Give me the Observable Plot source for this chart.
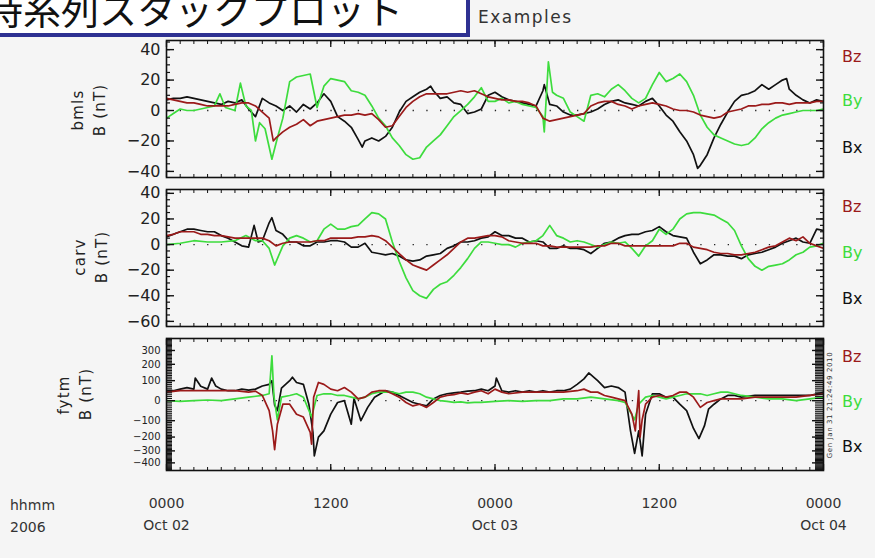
<!DOCTYPE html>
<html><head><meta charset="utf-8">
<script src="https://cdn.jsdelivr.net/npm/d3@7"></script>
<script src="https://cdn.jsdelivr.net/npm/@observablehq/plot@0.6"></script>
<style>
body{margin:0;background:#f5f5f5;}
#wrap{position:relative;width:875px;height:558px;overflow:hidden;background:#f5f5f5;font-family:"DejaVu Sans",sans-serif;color:#222;}
.abs{position:absolute;white-space:nowrap;}
.rot{position:absolute;white-space:nowrap;transform:translate(-50%,-50%) rotate(-90deg);font-size:15px;letter-spacing:1.2px;line-height:1;}
.leg{position:absolute;font-size:16px;line-height:1;transform:translateY(-50%);}
</style></head><body><div id="wrap"></div>
<script>
// ---------- data (hour since 2006-10-02 00:00 UT, value nT) ----------
const bmlsBx = [[0,7],[0.5,8],[1,8],[1.5,9],[2,8],[2.5,7],[3,6],[3.5,5],[4,4],[4.5,6],[5,5],[5.5,7],[6,1],[6.5,-4],[7,8],[7.5,5],[8,3],[8.5,0],[9,3],[9.5,-1],[10,4],[10.5,1],[11,5],[11.5,11],[12,6],[12.5,-4],[13,-7],[13.5,-11],[14,-19],[14.3,-24],[14.5,-20],[15,-18],[15.5,-20],[16,-17],[16.5,-11],[17,-1],[17.5,6],[18,9],[18.5,12],[19,14],[19.3,16],[19.5,13],[20,8],[20.5,9],[21,5],[21.5,4],[22,-2],[22.5,-1],[23,1],[23.5,10],[24,12],[24.5,9],[25,7],[25.5,6],[26,5],[26.5,4],[27,3],[27.5,13],[27.6,17],[28,4],[28.5,3],[29,-1],[29.5,-3],[30,-3],[30.5,-2],[31,-1],[31.5,1],[32,4],[32.5,6],[33,7],[33.5,5],[34,4],[34.5,3],[35,6],[35.5,8],[36,3],[36.5,-3],[37,-7],[37.5,-14],[38,-20],[38.5,-29],[38.8,-38],[39,-36],[39.5,-29],[40,-18],[40.5,-9],[41,-1],[41.5,6],[42,10],[42.5,11],[43,13],[43.5,17],[44,14],[44.5,17],[45,20],[45.3,21],[45.5,14],[46,10],[46.5,7],[47,5],[47.5,7],[48,6]];
const bmlsBy = [[0,-5],[0.5,-2],[1,1],[1.5,0],[2,0],[2.5,1],[3,2],[3.5,3],[3.9,11],[4.3,2],[5,0],[5.4,18],[5.8,3],[6.2,0],[6.5,-20],[6.8,-8],[7.2,-12],[7.7,-32],[8.1,-18],[8.5,-5],[9,19],[9.5,22],[10,23],[10.5,24],[11,2],[11.5,16],[12,21],[12.5,20],[13,19],[13.5,13],[14,12],[14.5,10],[15,3],[15.5,-5],[16,-10],[16.5,-18],[17,-23],[17.5,-29],[18,-32],[18.5,-31],[19,-24],[19.5,-20],[20,-16],[20.5,-10],[21,-4],[21.5,0],[22,4],[22.5,9],[23,15],[23.5,6],[24,6],[24.5,8],[25,5],[25.5,6],[26,4],[26.5,3],[27,2],[27.5,-4],[27.6,-14],[27.9,32],[28.2,12],[28.5,10],[29,8],[29.5,-1],[30,-4],[30.5,-7],[31,10],[31.5,11],[32,9],[32.5,14],[33,17],[33.5,13],[34,8],[34.5,5],[35,8],[35.5,17],[36,25],[36.5,19],[37,21],[37.5,24],[38,19],[38.5,10],[39,-3],[39.5,-11],[40,-16],[40.5,-18],[41,-20],[41.5,-22],[42,-23],[42.5,-22],[43,-18],[43.5,-12],[44,-8],[44.5,-5],[45,-3],[45.5,-2],[46,-1],[46.5,0],[47,0],[47.5,0],[48,1]];
const bmlsBz = [[0,8],[0.5,7],[1,6],[1.5,5],[2,5],[2.5,4],[3,3],[3.5,3],[4,3],[4.5,3],[5,4],[5.5,5],[6,5],[6.5,3],[7,-1],[7.5,-5],[7.8,-20],[8,-18],[8.5,-14],[9,-11],[9.5,-9],[10,-6],[10.5,-10],[11,-7],[11.5,-6],[12,-5],[12.5,-4],[13,-3],[13.5,-3],[14,-2],[14.5,-3],[15,-2],[15.5,-6],[16,-11],[16.5,-10],[17,-4],[17.5,2],[18,6],[18.5,9],[19,11],[19.5,11],[20,11],[20.5,11],[21,12],[21.5,13],[22,12],[22.5,13],[23,11],[23.5,9],[24,8],[24.5,7],[25,7],[25.5,6],[26,6],[26.5,5],[27,3],[27.5,-5],[28,-7],[28.5,-6],[29,-5],[29.5,-4],[30,-3],[30.5,-2],[31,3],[31.5,5],[32,6],[32.5,6],[33,4],[33.5,3],[34,1],[34.5,3],[35,4],[35.5,5],[36,4],[36.5,3],[37,1],[37.5,0],[38,0],[38.5,-1],[39,-3],[39.5,-4],[40,-5],[40.5,-4],[41,-1],[41.5,0],[42,1],[42.5,3],[43,3],[43.5,4],[44,4],[44.5,5],[45,5],[45.5,4],[46,5],[46.5,5],[47,5],[47.5,6],[48,6]];

const carvBx = [[0,6],[0.5,8],[1,10],[1.5,12],[2,12],[2.5,11],[3,10],[3.5,10],[4,7],[4.5,5],[5,2],[5.5,-1],[6,-2],[6.4,15],[6.7,2],[7,3],[7.5,17],[7.7,21],[8,11],[8.5,8],[9,2],[9.5,2],[10,-1],[10.5,-1],[11,2],[11.5,2],[12,3],[12.5,3],[13,2],[13.5,-2],[14,-2],[14.5,1],[15,-6],[15.5,-7],[16,-8],[16.5,-7],[17,-9],[17.5,-12],[18,-13],[18.5,-12],[19,-9],[19.5,-8],[20,-7],[20.5,-3],[21,-1],[21.5,2],[22,2],[22.5,3],[23,5],[23.5,6],[24,10],[24.5,7],[25,7],[25.5,5],[26,5],[26.5,2],[27,3],[27.5,2],[28,-3],[28.5,-3],[29,-1],[29.5,-3],[30,-3],[30.5,-4],[31,-7],[31.5,-3],[32,1],[32.5,2],[33,5],[33.5,7],[34,8],[34.5,8],[35,10],[35.5,11],[36,14],[36.5,10],[37,7],[37.5,6],[38,5],[38.5,-6],[39,-15],[39.5,-12],[40,-8],[40.5,-8],[41,-9],[41.5,-9],[42,-11],[42.5,-8],[43,-7],[43.5,-6],[44,-4],[44.5,-2],[45,1],[45.5,3],[46,5],[46.5,2],[47,1],[47.5,12],[48,11]];
const carvBy = [[0,0],[1,1],[2,3],[3,2],[4,2],[5,3],[5.8,7],[6.5,3],[7,3],[7.5,-3],[7.9,-16],[8.5,-1],[9,5],[9.5,7],[10,5],[10.5,2],[11,3],[11.5,12],[12,16],[12.5,12],[13,12],[13.5,14],[14,15],[14.5,20],[15,25],[15.5,24],[16,20],[16.5,2],[17,-13],[17.5,-26],[18,-36],[18.5,-40],[19,-42],[19.5,-35],[20,-31],[20.5,-29],[21,-24],[21.5,-18],[22,-11],[22.5,-3],[23,2],[23.5,2],[24,1],[24.5,0],[25,0],[25.5,-2],[26,1],[26.5,2],[27,3],[27.5,7],[28,15],[28.5,7],[29,5],[29.5,2],[30,3],[30.5,2],[31,0],[31.5,-2],[32,0],[32.5,2],[33,1],[33.5,2],[34,-3],[34.5,-9],[35,-1],[35.5,3],[36,12],[36.5,8],[37,12],[37.5,20],[38,24],[38.5,25],[39,25],[39.5,24],[40,23],[40.5,20],[41,17],[41.5,11],[42,-1],[42.5,-11],[43,-17],[43.5,-20],[44,-17],[44.5,-16],[45,-15],[45.5,-12],[46,-8],[46.5,-6],[47,-2],[47.5,-1],[48,1]];
const carvBz = [[0,7],[0.5,8],[1,10],[1.5,10],[2,10],[2.5,8],[3,8],[3.5,7],[4,7],[4.5,6],[5,5],[5.5,5],[6,5],[6.5,5],[7,5],[7.5,3],[8,-1],[8.5,1],[9,2],[9.5,2],[10,2],[10.5,2],[11,3],[11.5,3],[12,5],[12.5,5],[13,5],[13.5,5],[14,6],[14.5,6],[15,7],[15.5,6],[16,3],[16.5,-2],[17,-7],[17.5,-12],[18,-16],[18.5,-18],[19,-20],[19.5,-16],[20,-12],[20.5,-8],[21,-3],[21.5,2],[22,5],[22.5,5],[23,6],[23.5,7],[24,7],[24.5,6],[25,3],[25.5,2],[26,1],[26.5,1],[27,1],[27.5,-1],[28,-1],[28.5,-2],[29,-2],[29.5,-2],[30,-2],[30.5,-2],[31,-2],[31.5,-1],[32,-1],[32.5,1],[33,1],[33.5,-1],[34,-1],[34.5,-1],[35,-1],[35.5,-1],[36,-1],[36.5,-1],[37,-1],[37.5,1],[38,1],[38.5,-2],[39,-3],[39.5,-4],[40,-6],[40.5,-7],[41,-7],[41.5,-8],[42,-8],[42.5,-7],[43,-6],[43.5,-4],[44,-2],[44.5,-1],[45,2],[45.5,5],[46,3],[46.5,6],[47,1],[47.5,-1],[48,-3]];

const fytmBx = [[0,47],[0.5,47],[1,55],[1.5,63],[2,55],[2.1,115],[2.5,70],[3,55],[3.3,115],[3.6,71],[4,55],[4.5,47],[5,47],[5.5,55],[6,50],[6.5,55],[7,71],[7.5,80],[7.7,100],[7.9,-20],[8.1,-47],[8.4,60],[9,100],[9.2,120],[9.5,90],[10,80],[10.4,-16],[10.7,-170],[10.8,-340],[11.1,-200],[11.5,-160],[12,-65],[12.5,-8],[13,0],[13.5,-120],[13.7,10],[14.2,-100],[14.7,-31],[15.2,16],[16,47],[16.5,40],[17,24],[17.5,8],[18,-8],[18.5,-16],[19,-24],[19.5,8],[20,24],[20.5,32],[21,36],[21.5,40],[22,45],[22.5,47],[23,55],[23.5,47],[24,71],[24.1,115],[24.5,47],[25,40],[25.5,47],[26,40],[26.5,47],[27,40],[27.5,47],[28,40],[28.5,47],[29,47],[29.5,55],[30,80],[30.5,110],[30.85,145],[31.5,100],[32,63],[32.5,71],[33,63],[33.5,40],[33.9,-160],[34.2,-320],[34.5,-160],[34.75,-340],[35,-65],[35.5,32],[36,32],[36.5,16],[37,16],[37.5,-16],[38,-47],[38.5,-145],[38.9,-210],[39.3,-130],[39.6,-40],[40,-16],[40.5,8],[41,24],[41.5,24],[42,16],[43,24],[44,24],[45,24],[46,24],[47,24],[48,40]];
const fytmBy = [[0,0],[1,-3],[2,0],[3,3],[4,0],[5,8],[6,16],[7,24],[7.5,32],[7.7,259],[7.85,20],[8.1,-95],[8.4,16],[9,24],[9.5,32],[10,16],[10.6,-80],[11,24],[11.5,32],[12,32],[12.5,24],[13,24],[13.5,16],[14,8],[14.5,16],[15,32],[15.5,40],[16,40],[16.5,40],[17,32],[17.5,40],[18,40],[18.5,32],[19,16],[19.5,8],[20,0],[20.5,-3],[21,-8],[21.5,-5],[22,-10],[22.5,-8],[23,-8],[24,-3],[25,0],[26,-3],[27,0],[28,0],[29,8],[30,8],[31,16],[32,8],[33,0],[33.5,-8],[34.2,-95],[34.5,-16],[35,16],[35.5,24],[36,16],[36.5,8],[37,16],[37.5,24],[38,32],[38.5,32],[39,32],[39.5,24],[40,32],[40.5,40],[41,40],[41.5,32],[42,24],[43,16],[44,8],[45,8],[46,0],[47,8],[48,16]];
const fytmBz = [[0,40],[1,47],[2,47],[3,47],[4,47],[5,47],[6,40],[6.5,45],[7,24],[7.5,-47],[7.75,-160],[7.9,-290],[8.1,-120],[8.5,-16],[9,-16],[9.5,-65],[10,-80],[10.5,-170],[10.6,-250],[10.75,16],[11.1,90],[11.5,80],[12,55],[12.5,47],[13,63],[13.5,40],[14,8],[14.5,16],[15,40],[15.5,47],[16,47],[16.5,32],[17,16],[17.5,-8],[18,-24],[18.5,-16],[19,-31],[19.5,-8],[20,16],[20.5,24],[21,28],[21.5,36],[22,30],[22.5,40],[23,47],[23.5,32],[24,55],[24.5,40],[25,32],[26,40],[27,40],[28,40],[29,40],[30,47],[30.5,55],[31,40],[31.5,40],[32,24],[32.5,16],[33,8],[33.5,0],[34,-65],[34.25,-160],[34.5,47],[34.6,-200],[34.75,-95],[35,-16],[35.5,16],[36,24],[36.5,16],[37,24],[37.5,40],[38,40],[38.5,16],[39,-31],[39.5,-8],[40,0],[40.5,8],[41,8],[42,8],[43,16],[44,16],[45,16],[46,16],[47,24],[48,32]];

const stations = ["bmls", "carv", "fytm"];
const components = ["Bz", "By", "Bx"];
const compColors = {Bz: "#9b1a1a", By: "#3ddc3d", Bx: "#111111"};
const yTicks1 = [-40, -20, 0, 20, 40];
const yTicks2 = [-60, -40, -20, 0, 20, 40];
const yTicks3 = [-400, -300, -200, -100, 0, 100, 200, 300];
const xMajorHours = [0, 12, 24, 36, 48];
const xTimeLabels = ["0000", "1200", "0000", "1200", "0000"];
const xDateLabels = ["Oct 02", "", "Oct 03", "", "Oct 04"];

// ---------- helpers ----------
const t0 = Date.UTC(2006, 9, 2);
const toDate = h => new Date(t0 + h * 3600e3);
const rows = pairs => pairs.map(([h, v]) => ({time: toDate(h), value: v}));
const hourTicks = d3.range(0, 49).map(toDate);
const majorTicks = xMajorHours.map(toDate);
const idxOf = d => xMajorHours.indexOf(Math.round((+d - t0) / 3600e3));

const wrap = document.getElementById("wrap");

function panel({bx, by, bz, y, majors, minors, top, height, mt, mb, fontSize, minorL, minorR, majorL, majorR, bottomLabels}) {
  const marks = [
    Plot.ruleY([0], {stroke: "#222", strokeWidth: 1.3, strokeDasharray: "1.3,12.4"}),
    Plot.line(rows(bx), {x: "time", y: "value", stroke: compColors.Bx, strokeWidth: 1.7}),
    Plot.line(rows(by), {x: "time", y: "value", stroke: compColors.By, strokeWidth: 1.7}),
    Plot.line(rows(bz), {x: "time", y: "value", stroke: compColors.Bz, strokeWidth: 1.7}),
    Plot.frame({stroke: "#111", strokeWidth: 1.6}),
    Plot.axisY(minors, {anchor: "left", tickSize: -minorL, fill: "none", stroke: "#111", strokeWidth: 1.2}),
    Plot.axisY(minors, {anchor: "right", tickSize: -minorR, fill: "none", stroke: "#111", strokeWidth: 1.2}),
    Plot.axisY(majors, {anchor: "left", tickSize: -majorL, fill: "none", stroke: "#111", strokeWidth: 1.4}),
    Plot.axisY(majors, {anchor: "right", tickSize: -majorR, fill: "none", stroke: "#111", strokeWidth: 1.4}),
    Plot.axisY(majors, {anchor: "left", tickSize: 0, tickPadding: 6, fontSize, fill: "#222"}),
    Plot.axisX(hourTicks, {anchor: "top", tickSize: -3, fill: "none", stroke: "#111"}),
    Plot.axisX(hourTicks, {anchor: "bottom", tickSize: -3, fill: "none", stroke: "#111"}),
    Plot.axisX(majorTicks, {anchor: "top", tickSize: -6, fill: "none", stroke: "#111", strokeWidth: 1.3}),
    Plot.axisX(majorTicks, {anchor: "bottom", tickSize: -6, fill: "none", stroke: "#111", strokeWidth: 1.3})
  ];
  if (bottomLabels) {
    marks.push(Plot.axisX(majorTicks, {anchor: "bottom", tickSize: 0, tickPadding: 28, fontSize: 14, fill: "#333",
      tickFormat: d => xTimeLabels[idxOf(d)]}));
    marks.push(Plot.axisX(majorTicks, {anchor: "bottom", tickSize: 0, tickPadding: 50, fontSize: 14, fill: "#333",
      tickFormat: d => xDateLabels[idxOf(d)]}));
  }
  const svg = Plot.plot({
    width: 875, height,
    marginLeft: 166, marginRight: 52, marginTop: mt, marginBottom: mb,
    x: {type: "utc", domain: [toDate(0), toDate(48)], label: null},
    y: {...y, label: null},
    clip: true,
    style: {background: "transparent", fontFamily: "DejaVu Sans, sans-serif", color: "#222", overflow: "visible"},
    marks
  });
  svg.style.position = "absolute";
  svg.style.left = "0px";
  svg.style.top = top + "px";
  wrap.appendChild(svg);
}

panel({bx: bmlsBx, by: bmlsBy, bz: bmlsBz, y: {domain: [-44, 46]}, majors: yTicks1,
  minors: d3.range(-40, 46, 5), top: 30, height: 155, mt: 10, mb: 8, fontSize: 16,
  minorL: 4, minorR: 4, majorL: 8, majorR: 8});
panel({bx: carvBx, by: carvBy, bz: carvBz, y: {domain: [-64, 43]}, majors: yTicks2,
  minors: d3.range(-60, 43, 5), top: 180, height: 155, mt: 9, mb: 9, fontSize: 16,
  minorL: 4, minorR: 4, majorL: 8, majorR: 8});
panel({bx: fytmBx, by: fytmBy, bz: fytmBz, y: {type: "symlog", constant: 400, domain: [-471, 400]}, majors: yTicks3,
  minors: d3.range(-470, 401, 10), top: 330, height: 228, mt: 8, mb: 88, fontSize: 10,
  minorL: 6, minorR: 9, majorL: 9, majorR: 12, bottomLabels: true});

// ---------- text around the panels ----------
function add(text, cls, style) {
  const el = document.createElement("div");
  el.className = cls;
  el.textContent = text;
  Object.assign(el.style, style);
  wrap.appendChild(el);
  return el;
}
// title box
const box = document.createElement("div");
Object.assign(box.style, {position: "absolute", left: "0px", top: "0px", width: "466px", height: "33px",
  background: "#ffffff", borderRight: "4px solid #2e3192", borderBottom: "4px solid #2e3192", overflow: "hidden"});
const ttl = document.createElement("div");
ttl.textContent = "時系列スタックプロット";
Object.assign(ttl.style, {position: "absolute", left: "-15px", top: "-11px", fontSize: "38px", lineHeight: "38px",
  fontFamily: "'Noto Sans CJK JP', sans-serif", color: "#111", whiteSpace: "nowrap"});
box.appendChild(ttl);
wrap.appendChild(box);
add("Examples", "abs", {left: "478px", top: "9px", fontSize: "17px", letterSpacing: "1.5px", color: "#333", lineHeight: "1"});

// station / unit labels
const labelPos = [[78, 110, 100, 110], [80, 257, 102, 257], [64, 395, 86, 394]];
stations.forEach((s, i) => {
  const [sx, sy, ux, uy] = labelPos[i];
  add(s, "rot", {left: sx + "px", top: sy + "px"});
  add("B (nT)", "rot", {left: ux + "px", top: uy + "px"});
});

// component legends
const legendY = [[57, 101, 148], [207, 253, 299], [357, 402, 447]];
legendY.forEach(ys => components.forEach((c, j) => {
  add(c, "leg", {left: "842px", top: ys[j] + "px", color: compColors[c]});
}));

// generation stamp on fytm panel
add("Gen Jan 31 21:24:49 2010", "rot", {left: "830px", top: "405px", fontSize: "7px", letterSpacing: "0.6px", color: "#333"});

// axis captions
add("hhmm", "abs", {left: "10px", top: "498px", fontSize: "14px", lineHeight: "1", color: "#333"});
add("2006", "abs", {left: "10px", top: "520px", fontSize: "14px", lineHeight: "1", color: "#333"});
</script></body></html>
